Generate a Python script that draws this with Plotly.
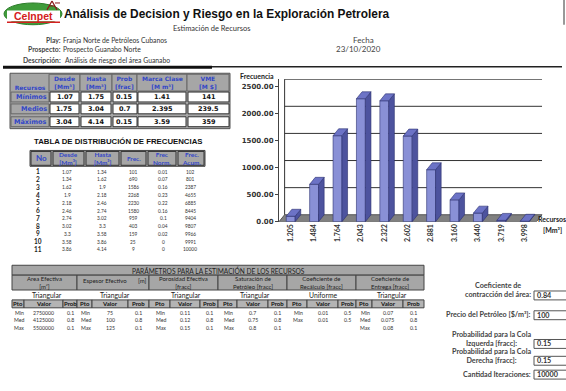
import plotly.graph_objects as go

W, H = 566, 391

# ---------------- DATA ----------------
categories = ["1.205", "1.484", "1.764", "2.043", "2.322", "2.602", "2.881", "3.160", "3.440", "3.719", "3.998"]
frecuencia = [101, 690, 1586, 2268, 2230, 1580, 959, 403, 159, 25, 9]
y_ticks = [0, 500, 1000, 1500, 2000, 2500]

bin_no = ["1", "2", "3", "4", "5", "6", "7", "8", "9", "10", "11"]
bin_desde = ["1.07", "1.34", "1.62", "1.9", "2.18", "2.46", "2.74", "3.02", "3.3", "3.58", "3.86"]
bin_hasta = ["1.34", "1.62", "1.9", "2.18", "2.46", "2.74", "3.02", "3.3", "3.58", "3.86", "4.14"]
frec_norm = ["0.01", "0.07", "0.16", "0.23", "0.22", "0.16", "0.1", "0.04", "0.02", "0", "0"]
frec_acum = ["102", "801", "2387", "4655", "6885", "8445", "9404", "9807", "9966", "9991", "10000"]

rec_rows = ["Mínimos", "Medios", "Máximos"]
rec_desde = ["1.07", "1.75", "3.04"]
rec_hasta = ["1.75", "3.04", "4.14"]
rec_prob = ["0.15", "0.7", "0.15"]
rec_marca = ["1.41", "2.395", "3.59"]
rec_vme = ["141", "239.5", "359"]

param_names = ["Area Efectiva<br>[m²]", "Espesor Efectivo", "Porosidad Efectiva<br>[fracc]",
               "Saturación de<br>Petróleo [fracc]", "Coeficiente de<br>Recálculo [fracc]",
               "Coeficiente de<br>Entrega [fracc]"]
param_dist = ["Triangular", "Triangular", "Triangular", "Triangular", "Uniforme", "Triangular"]
param_pto = [["Min", "Med", "Max"], ["Min", "Med", "Max"], ["Min", "Med", "Max"],
             ["Min", "Med", "Max"], ["Min", "Max"], ["Min", "Med", "Max"]]
param_valor = [["2750000", "4125000", "5500000"], ["75", "100", "125"], ["0.11", "0.12", "0.15"],
               ["0.7", "0.75", "0.8"], ["0.01", "0.01"], ["0.07", "0.075", "0.08"]]
param_prob = [["0.1", "0.8", "0.1"], ["0.1", "0.8", "0.1"], ["0.1", "0.8", "0.1"],
              ["0.1", "0.8", "0.1"], ["0.5", "0.5"], ["0.1", "0.8", "0.1"]]

input_labels = ["Coeficiente de<br>contracción del área:", "Precio del Petróleo [$/m³]:",
                "Probabilidad para la Cola<br>Izquerda [fracc]:", "Probabilidad para la Cola<br>Derecha [fracc]:",
                "Cantidad Iteraciones:"]
input_values = ["0.84", "100", "0.15", "0.15", "10000"]

# ---------------- STYLE HELPERS ----------------
shapes, anns = [], []
GRAY = "#a6a6a6"
BLUE = "#3346c8"
SMALL = "Lato"


def X(p):
    return p / W


def Y(p):
    return 1 - p / H


def R(x0, y0, x1, y1, fill="rgba(0,0,0,0)", line="#444", lw=1, layer="above"):
    shapes.append(dict(type="rect", xref="paper", yref="paper", x0=X(x0), x1=X(x1), y0=Y(y1), y1=Y(y0),
                       fillcolor=fill, line=dict(color=line, width=lw), layer=layer))


def L(x0, y0, x1, y1, color="#222", lw=1):
    shapes.append(dict(type="line", xref="paper", yref="paper", x0=X(x0), x1=X(x1), y0=Y(y0), y1=Y(y1),
                       line=dict(color=color, width=lw), layer="above"))


def T(x, y, s, size=6, color="#222", bold=False, anchor="center", fam=SMALL):
    anns.append(dict(x=X(x), y=Y(y), xref="paper", yref="paper", text=s, showarrow=False,
                     xanchor=anchor, yanchor="middle", borderpad=0,
                     font=dict(size=size, color=color, family=fam, weight="bold" if bold else "normal")))


# ---------------- HEADER ----------------
shapes.append(dict(type="circle", xref="paper", yref="paper", x0=X(4), x1=X(62), y0=Y(25), y1=Y(3),
                   fillcolor="#3f9c3a", line=dict(color="#2e7d2b", width=1), layer="above"))
R(7, 10.5, 60, 21.5, fill="white", line="white", lw=0)
L(7, 22.5, 60, 22.5, color="#d42020", lw=1.5)
L(47, 10, 52, 1, color="#8b1a1a", lw=1.2)
L(52, 1, 57, 10, color="#8b1a1a", lw=1.2)
L(49, 6, 55, 6, color="#8b1a1a", lw=1)
L(55, 3, 60, 3, color="#8b1a1a", lw=1)
T(33, 16, "Celnpet", size=10.5, color="#d42020", bold=True, fam="Liberation Sans")

T(63, 14, "Análisis de Decision y Riesgo en la Exploración Petrolera", size=11.9, color="#111",
  bold=True, anchor="left", fam="Liberation Sans")
T(212, 29, "Estimación de Recursos", size=7.5, color="#333")
T(62, 40, "Play:", size=6.8, color="#444", bold=True, anchor="right")
T(62, 40, "Franja Norte de Petróleos Cubanos", size=6.8, color="#333", anchor="left")
T(62, 50, "Prospecto:", size=6.8, color="#444", bold=True, anchor="right")
T(62, 50, "Prospecto Guanabo Norte", size=6.8, color="#333", anchor="left")
T(62, 61, "Descripción:", size=6.8, color="#444", bold=True, anchor="right")
T(64, 61, "Análisis de riesgo del área Guanabo", size=6.8, color="#333", anchor="left")
T(363, 40, "Fecha", size=8, color="#444")
T(358, 50, "23/10/2020", size=8, color="#444")
L(3, 68, 212, 68, color="#111", lw=3)
L(212, 67.5, 562, 67.5, color="#222", lw=1.5)
L(564, 0, 564, 25, color="#333", lw=1)

# ---------------- RESUMEN TABLE ----------------
R(10, 74, 230, 130, fill=GRAY, line="#555", layer="below")
hcols = [(49, 80), (80, 112), (112, 137), (137, 187), (187, 229)]
hdrs = ["Desde<br>[Mm³]", "Hasta<br>[Mm³]", "Prob<br>[frac]", "Marca Clase<br>[M m³]", "VME<br>[M $]"]
for (a, b), h in zip(hcols, hdrs):
    R(a, 75, b, 92, fill=GRAY, line="#666")
    T((a + b) / 2, 83.5, h, size=6, color=BLUE, bold=True, fam="DejaVu Sans")
row_y = [(93, 103), (105, 115), (118, 128)]
cells = [(50, 79), (81, 111), (113, 137), (138, 186), (188, 229)]
cols = [rec_desde, rec_hasta, rec_prob, rec_marca, rec_vme]
for r, (y0, y1) in enumerate(row_y):
    R(11, y0, 49, y1, fill=GRAY, line="#666")
    T(48, (y0 + y1) / 2, rec_rows[r], size=6.5, color=BLUE, bold=True, anchor="right", fam="DejaVu Sans")
    for c, (a, b) in enumerate(cells):
        R(a, y0, b, y1, fill="white", line="#333")
        T((a + b) / 2, (y0 + y1) / 2 + 0.5, cols[c][r], size=6.5, color="#111", bold=True, fam="DejaVu Sans")

# ---------------- FREQUENCY TABLE ----------------
T(118, 143, "TABLA DE DISTRIBUCIÓN DE FRECUENCIAS", size=7.8, color="#111", bold=True, fam="Liberation Sans")
R(30, 152, 205, 168, fill=GRAY, line="#444")
fcols = [(30, 52), (52, 85), (85, 120), (120, 147), (147, 177), (177, 205)]
fhdr = ["No", "Desde<br>[Mm³]", "Hasta<br>[Mm³]", "Frec.", "Frec<br>Norm.", "Frec.<br>Acum."]
for (a, b), h in zip(fcols, fhdr):
    R(a + 1, 153, b - 1, 167, fill=GRAY, line="#333")
    T((a + b) / 2, 160, h, size=8 if h == "No" else 6.4, color=BLUE, bold=True)
fx = [38, 67, 102, 133, 163, 190]
fdata = [bin_no, bin_desde, bin_hasta, [str(v) for v in frecuencia], frec_norm, frec_acum]
for k in range(len(bin_no)):
    yy = 173.5 + 7.85 * k
    for c in range(6):
        if c == 0:
            T(fx[c], yy, fdata[c][k], size=6.5, color="#222", bold=True)
        else:
            T(fx[c], yy, fdata[c][k], size=4.8, color="#333")

# ---------------- PARAMETER TABLE ----------------
R(12, 268, 424, 278, fill=GRAY, line="#444")
T(218, 273, "PARÁMETROS PARA LA ESTIMACIÓN DE LOS RECURSOS", size=6.6, color="#222")
pcols = [(12, 24, 63, 77), (77, 92, 128, 149), (149, 170, 200, 218), (218, 237, 268, 287),
         (287, 307, 338, 356), (356, 372, 403, 424)]
prow_y = [316, 323.5, 331]
for g, (x0, x1, x2, x3) in enumerate(pcols):
    R(x0, 278, x3, 293, fill=GRAY, line="#444")
    if g == 1:
        T(105, 283, param_names[g], size=6, color="#222")
        T(142, 283, "[m]", size=6, color="#222")
    else:
        T((x0 + x3) / 2, 285.5, param_names[g], size=6, color="#222")
    T((x0 + x3) / 2 + 2, 298, param_dist[g], size=6.8, color="#222")
    for (a, b), lab in zip([(x0, x1), (x1, x2), (x2, x3)], ["Pto", "Valor", "Prob"]):
        R(a, 303, b, 311, fill="#b4b4b4", line="#444")
        T((a + b) / 2, 307, lab, size=6, color="#111", bold=True)
    for r in range(len(param_pto[g])):
        T((x0 + x1) / 2 + 1, prow_y[r], param_pto[g][r], size=5.2, color="#333")
        T((x1 + x2) / 2, prow_y[r], param_valor[g][r], size=5.2, color="#333")
        T((x2 + x3) / 2, prow_y[r], param_prob[g][r], size=5.2, color="#333")

# ---------------- INPUTS ----------------
inp_lab_y = [293.5, 318, 342, 360, 378]
inp_box = [(294, 303), (314, 323), (343, 352), (360, 369), (374, 383)]
for lab, val, ly, (b0, b1) in zip(input_labels, input_values, inp_lab_y, inp_box):
    T(532, ly, lab, size=7.2, color="#444", bold=True, anchor="right")
    R(534, b0, 570, b1, fill="white", line="#555")
    T(536, (b0 + b1) / 2, val, size=7.2, color="#333", bold=True, anchor="left")

# ---------------- CHART ----------------
bw = 0.38
dx = 0.24
dy = 128
xs = list(range(len(categories)))
FRONT, SIDE, TOP, EDGE = "#8990d6", "#4d539e", "#6c73c6", "#2c3070"

shapes.append(dict(type="path", xref="x", yref="y",
                   path=f"M -0.5 0 L 10.5 0 L {10.5 + dx} {dy} L {-0.5 + dx} {dy} Z",
                   fillcolor="#808080", line=dict(color="#555", width=1), layer="below"))
for v in y_ticks[1:]:
    shapes.append(dict(type="line", xref="x", yref="y", x0=-0.5 + dx, x1=10.5 + dx, y0=v + dy, y1=v + dy,
                       line=dict(color="#333", width=1), layer="below"))
shapes.append(dict(type="line", xref="x", yref="y", x0=-0.5 + dx, x1=-0.5 + dx, y0=dy, y1=2500 + dy,
                   line=dict(color="#333", width=1), layer="below"))

fig = go.Figure()
fig.add_bar(x=xs, y=frecuencia, width=bw, marker=dict(color=FRONT, line=dict(color=EDGE, width=0.6)),
            hoverinfo="skip")
sx, sy, tx, ty = [], [], [], []
for i, v in zip(xs, frecuencia):
    r, l = i + bw / 2, i - bw / 2
    sx += [r, r + dx, r + dx, r, r, None]
    sy += [0, dy, v + dy, v, 0, None]
    tx += [l, l + dx, r + dx, r, l, None]
    ty += [v, v + dy, v + dy, v, v, None]
fig.add_scatter(x=sx, y=sy, mode="lines", fill="toself", fillcolor=SIDE,
                line=dict(color=EDGE, width=0.6), hoverinfo="skip")
fig.add_scatter(x=tx, y=ty, mode="lines", fill="toself", fillcolor=TOP,
                line=dict(color=EDGE, width=0.6), hoverinfo="skip")

# "Recursos" header text tucked just above the first row (drawn as a trace, under the row cells)
fig.add_scatter(x=[30], y=[89.2], mode="text", text=["Recursos"], xaxis="x2", yaxis="y2",
                textfont=dict(size=6, color=BLUE, family="DejaVu Sans", weight="bold"), hoverinfo="skip")

T(257, 77, "Frecuencia", size=7, color="#222", bold=True)
T(537, 221, "Recursos", size=7, color="#222", bold=True, anchor="left")
T(552, 232, "[Mm³]", size=7, color="#222", bold=True)

px_per_unit_x = 23.4
x_range = [-0.5, 10.8]
x_left = 279
x_right = x_left + (x_range[1] - x_range[0]) * px_per_unit_x
y_top_val = 2630
y_bottom_px = 224
y_top_px = y_bottom_px - y_top_val / 18.25

fig.update_layout(
    width=W, height=H, autosize=False, showlegend=False,
    margin=dict(l=0, r=0, t=0, b=0),
    paper_bgcolor="white", plot_bgcolor="rgba(0,0,0,0)",
    xaxis=dict(domain=[X(x_left), X(x_right)], range=x_range, tickmode="array", tickvals=xs,
               ticktext=categories, tickangle=-90, showgrid=False, zeroline=False, showline=False,
               tickfont=dict(size=7, color="#333", family=SMALL, weight="bold"), fixedrange=True),
    yaxis=dict(domain=[Y(y_bottom_px), Y(y_top_px)], range=[0, y_top_val], tickmode="array",
               tickvals=y_ticks, ticktext=[f"{v:.2f}" for v in y_ticks], showgrid=False,
               zeroline=False, showline=True, linecolor="#444", ticks="outside", ticklen=3,
               tickcolor="#444", tickfont=dict(size=7, color="#333", family="DejaVu Sans", weight="bold"),
               fixedrange=True),
    xaxis2=dict(domain=[0, 1], range=[0, W], visible=False, anchor="y2", fixedrange=True),
    yaxis2=dict(domain=[0, 1], range=[H, 0], visible=False, anchor="x2", fixedrange=True),
    shapes=shapes, annotations=anns,
)

fig.write_html("out.html", config={"displayModeBar": False},
               post_script="document.body.style.margin='0';")
